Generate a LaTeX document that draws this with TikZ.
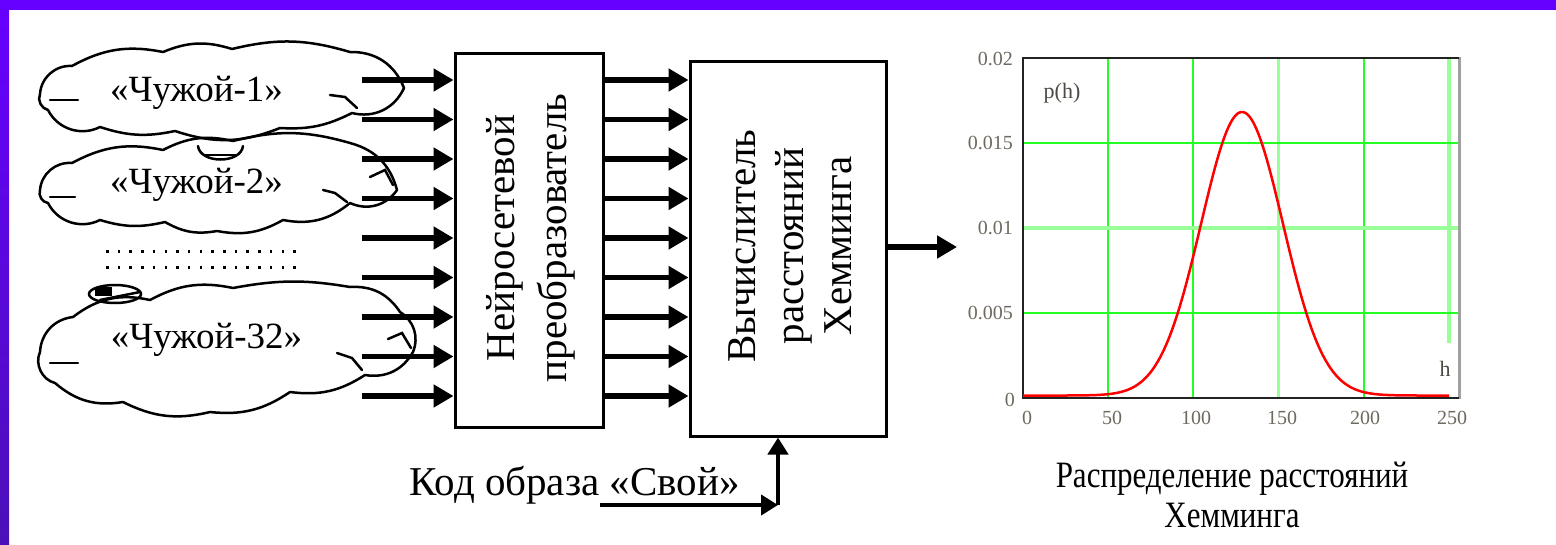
\documentclass[tikz,border=0pt]{standalone}
\usepackage{fontspec}
\setmainfont{Liberation Serif}
\usetikzlibrary{arrows.meta}
\definecolor{purtop}{HTML}{6600FF}
\definecolor{purbot}{HTML}{4C10B8}
\definecolor{gridA}{HTML}{22FF22}
\definecolor{gridB}{HTML}{99FF99}
\definecolor{ticklbl}{HTML}{6E6A60}
\definecolor{axisdark}{HTML}{222222}
\definecolor{axisgray}{HTML}{A0A0A0}
\begin{document}
\begin{tikzpicture}[x=1pt,y=-1pt,
  box/.style={draw, line width=3pt, inner sep=0pt},
  bigarrow/.style={line width=5.5pt, -{Triangle[length=20pt,width=22pt]}},
  smallarrow/.style={line width=4.5pt, -{Triangle[length=17pt,width=20pt]}},
  cloudline/.style={line width=2.5pt, line join=round},
  cloudtext/.style={anchor=base, font=\fontsize{37}{40}\selectfont},
  detail/.style={line width=2.5pt, line cap=round},
  boxtexta/.style={rotate=90, align=center, font=\fontsize{41}{52}\selectfont},
  boxtextb/.style={rotate=90, align=center, font=\fontsize{41}{48}\selectfont},
  ticklabel/.style={text=ticklbl, font=\fontsize{20}{22}\selectfont, inner sep=0pt},
  gridmain/.style={gridA, line width=2pt},
  gridlite/.style={gridB, line width=3.5pt}
]
\useasboundingbox (0,0) rectangle (1556,544);
\fill[white] (0,0) rectangle (1556,544);
\shade[top color=purtop, bottom color=purbot] (0,0) rectangle (9,544);
\fill[purtop] (0,0) rectangle (1556,10);

% clouds
\draw[cloudline] (40,94) to[bend left=45] (72,66) to[bend left=20] (163,52) to[bend left=20] (232,49)
  to[bend left=15] (350,52) to[bend left=35] (404,88) to[bend left=40] (352,113) to[bend left=15] (280,128)
  to[bend left=20] (175,131) to[bend left=15] (100,127) to[bend left=45] (48,110) to[bend left=50] cycle;
\draw[cloudline] (40,190) to[bend left=45] (72,163) to[bend left=20] (163,150) to[bend left=20] (233,141)
  to[bend left=15] (350,143) to[bend left=30] (397,190) to[bend left=40] (350,203) to[bend left=25] (283,220)
  to[bend left=20] (217,231) to[bend left=20] (165,222) to[bend left=15] (100,220) to[bend left=45] (48,203) to[bend left=50] cycle;
\draw[cloudline] (40,352) to[bend left=40] (73,317) to[bend left=25] (150,300) to[bend left=20] (233,288)
  to[bend left=10] (350,287) to[bend left=30] (400,312) to[bend left=40] (413,352) to[bend left=35] (365,375)
  to[bend left=20] (290,392) to[bend left=20] (210,412) to[bend left=20] (123,402) to[bend left=25] (55,383) to[bend left=50] cycle;
\node[cloudtext] (t1) at (196.5,101) {«Чужой-1»};
\node[cloudtext] (t2) at (196.5,193) {«Чужой-2»};
\node[cloudtext] (t3) at (206.5,348) {«Чужой-32»};
\draw[detail] (50,100) -- (78,100);
\draw[detail] (330,95) -- (345,97) -- (357,108);
\draw[detail] (50,197) -- (75,197);
\draw[detail] (323,190) -- (335,193) -- (347,202);
\draw[detail] (370,177) -- (385,170) -- (393,185);
\draw[detail] (50,363) -- (78,363);
\draw[detail] (337,353) -- (352,358) -- (362,370);
\draw[detail] (388,339) -- (402,333) -- (411,348);
\draw[detail] (198,146) .. controls (200,164) and (241,164) .. (243,146);
\draw[detail] (205,155) -- (236,155);
\draw[detail] (115,294) ellipse (26pt and 9pt);
\fill (95,287) rectangle (112,296);
\draw[detail] (100,300) -- (140,292);

% dots
\foreach \j in {0,...,16} {
  \fill (106+11.7*\j,250) rectangle +(2.5,2.5);
  \fill (106+11.7*\j,266) rectangle +(2.5,2.5);
}

% boxes
\node[box, minimum width=148pt, minimum height=374pt] (b1) at (529,240) {};
\node[box, minimum width=196pt, minimum height=375pt] (b2) at (788,248.5) {};
\node[boxtexta] (b1t) at (531,238) {Нейросетевой\\преобразователь};
\node[boxtextb] (b2t) at (790,246) {Вычислитель\\расстояний\\Хемминга};

% arrows
\foreach \i in {0,...,8} {
  \coordinate (s\i) at (362,80+39.5*\i);
  \draw[bigarrow] (s\i) -- (s\i -| b1.west);
  \draw[bigarrow] (s\i -| b1.east) -- (s\i -| b2.west);
}
\coordinate (out) at (957,247);
\draw[bigarrow] (b2.east |- out) -- (out);

% code input
\node[anchor=base, font=\fontsize{41}{44}\selectfont] (kod) at (574.5,495) {Код образа «Свой»};
\coordinate (ks) at (600,505);
\coordinate (kc) at (778,505);
\draw[smallarrow] (ks) -- (kc);
\draw[smallarrow] (kc) -- (kc |- b2.south);

% chart grid
\foreach \gx in {1108.2,1193.4,1363.9} \draw[gridmain] (\gx,58) -- (\gx,398);
\draw[gridlite] (1278.7,58) -- (1278.7,398);
\draw[gridlite] (1449.1,58) -- (1449.1,343);
\foreach \gy in {143,313} \draw[gridmain] (1023,\gy) -- (1459,\gy);
\draw[gridB, line width=4pt] (1023,228) -- (1459,228);
% frame
\draw[axisgray, line width=3pt] (1459,57) -- (1459,399);
\draw[axisdark, line width=2pt] (1459,58) -- (1023,58) -- (1023,398) -- (1459,398);
% curve
\draw[red, line width=2.5pt, line join=round] plot[domain=0:250, samples=251, smooth] ({1023+1.7044*\x}, {395.5-283.5*exp(-0.5*((\x-128.5)/24)^2)});

% tick labels
\node[ticklabel, anchor=east] (y1) at (1013,59) {0.02};
\node[ticklabel, anchor=east] (y2) at (1013,143) {0.015};
\node[ticklabel, anchor=east] (y3) at (1013,228) {0.01};
\node[ticklabel, anchor=east] (y4) at (1013,313) {0.005};
\node[ticklabel, anchor=east] (y5) at (1015,400) {0};
\node[ticklabel] (x0) at (1027,418) {0};
\node[ticklabel] (x1) at (1112,418) {50};
\node[ticklabel] (x2) at (1196,418) {100};
\node[ticklabel] (x3) at (1282,418) {150};
\node[ticklabel] (x4) at (1365,418) {200};
\node[ticklabel] (x5) at (1452,418) {250};
\node[text=ticklbl!70!black, font=\fontsize{22}{24}\selectfont, inner sep=0pt] (ph) at (1062,93) {p(h)};
\node[text=ticklbl!70!black, font=\fontsize{22}{24}\selectfont, inner sep=0pt] (hl) at (1445,369) {h};

% caption
\node[anchor=base, font=\fontsize{31}{34}\selectfont] (cap1) at (1232,487) {\scalebox{1}[1.2]{Распределение расстояний}};
\node[anchor=base, font=\fontsize{31}{34}\selectfont] (cap2) at (1232,527) {\scalebox{1}[1.2]{Хемминга}};
\end{tikzpicture}
\end{document}
